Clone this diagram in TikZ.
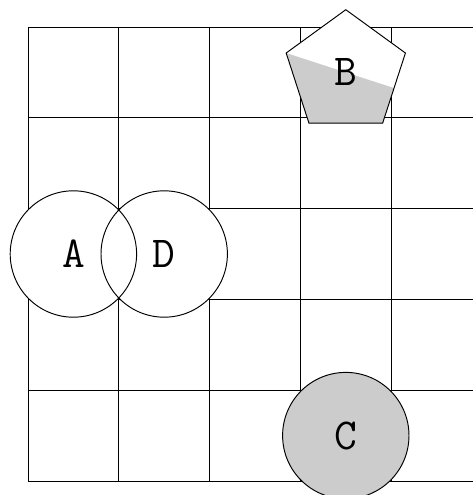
\documentclass[tikz,border=0pt]{standalone}
\usetikzlibrary{shapes.geometric, calc}

\begin{document}
\begin{tikzpicture}[
  scale=2,
  every node/.style={font=\ttfamily\fontsize{27.7}{32}\selectfont},
  disc/.style={circle, draw=black, line width=0.6pt, minimum size=2.784cm,
               inner sep=0pt},
  penta/.style={regular polygon, regular polygon sides=5, draw=black,
                line width=0.6pt, minimum size=2.762cm, inner sep=0pt,
                fill=white},
  halfshade/.style={path picture={
      \coordinate (mid) at ($(path picture bounding box.south)!0.4472!(path picture bounding box.north)$);
      \fill[black!20] ($(mid)+(162:3cm)$) -- ($(mid)+(-18:3cm)$)
            -- ++(-108:3cm) -- ++(162:6cm) -- cycle;
  }},
]
\useasboundingbox (-0.3084,-0.1542) rectangle (4.890,5.2974);

% Grid
\draw[line width=0.6pt] (0,0) grid (5,5);

% Paper under the overlapping discs
\fill[white] (0.5,2.5) circle[radius=0.696];
\fill[white] (1.5,2.5) circle[radius=0.696];

% Nodes
\node[disc] (a) at (0.5,2.5) {A};
\node[disc] (d) at (1.5,2.5) {D};
\node[disc, fill=black!20] (c) at (3.5,0.5) {C};
\node[penta, halfshade] (b) at (3.5,4.5) {B};

\end{tikzpicture}
\end{document}
